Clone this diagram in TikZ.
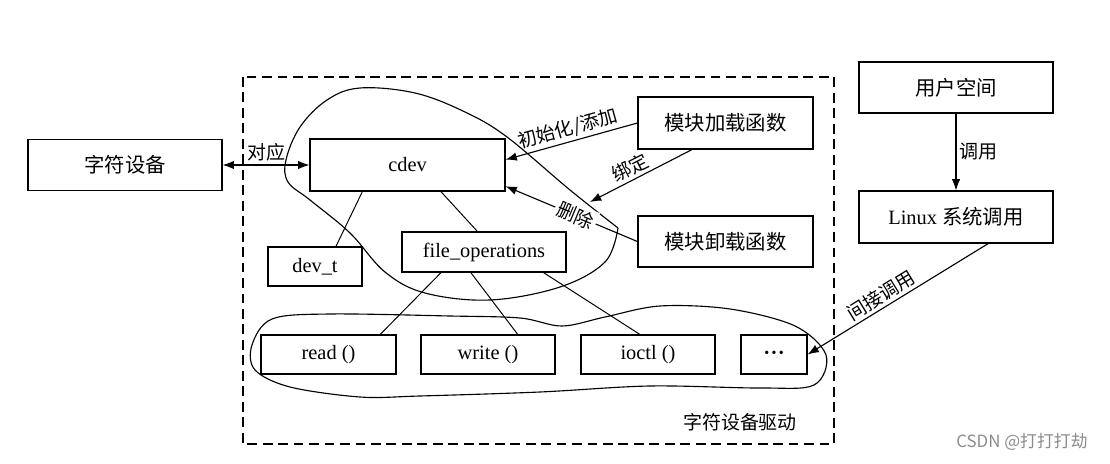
\documentclass[tikz,border=0pt]{standalone}
\usepackage{fontspec}
\setmainfont{Liberation Serif}
\newfontfamily\cjk{Noto Sans CJK SC}
\usetikzlibrary{calc,arrows.meta}
\def\on(#1)!#2!(#3){($(#1)!#2!(#3)$)}
\tikzset{
  box/.style={draw, line width=0.8pt, inner sep=0pt, font=\fontsize{14.5pt}{16pt}\selectfont},
  lbl/.style={font=\cjk\fontsize{13.5pt}{15pt}\selectfont, inner sep=2pt},
  arr/.style={line width=0.8pt, -{Latex[length=8pt,width=6pt]}},
  link/.style={line width=0.7pt},
  blob/.style={line width=0.8pt},
}

\begin{document}
\begin{tikzpicture}[x=0.025cm, y=-0.025cm]
			%%%%% START %%%%%
			\useasboundingbox (0,0) rectangle (1110,464);
			
			\draw[line width=0.8pt, dash pattern=on 7pt off 4pt] (243,77) rectangle (834,444);
			\node[lbl] (drvlbl) at (740,422) {字符设备驱动};
			
			\node[box, minimum width=4.85cm, minimum height=1.275cm] (chardev) at (125,165) {\cjk 字符设备};
			\node[box, minimum width=4.875cm, minimum height=1.3cm] (cdev) at (407.5,165) {cdev};
			\node[box, minimum width=2.35cm, minimum height=0.975cm] (devt) at (315,266.5) {dev\_t};
			\node[box, minimum width=4.1cm, minimum height=1.0cm] (fops) at (484,252) {file\_operations};
			\node[box, minimum width=4.375cm, minimum height=1.3cm] (modload) at (725.5,123) {\cjk 模块加载函数};
			\node[box, minimum width=4.375cm, minimum height=1.275cm] (modunload) at (725.5,241.5) {\cjk 模块卸载函数};
			\node[box, minimum width=4.85cm, minimum height=1.275cm] (user) at (956,87.5) {\cjk 用户空间};
			\node[box, minimum width=4.85cm, minimum height=1.3cm] (syscall) at (956,217) {Linux {\cjk 系统调用}};
			
			\node[box, minimum width=3.375cm, minimum height=0.975cm] (read) at (328.5,354.5) {read ()};
			\node[box, minimum width=3.35cm, minimum height=0.975cm] (write) at (488,354.5) {write ()};
			\node[box, minimum width=3.35cm, minimum height=0.975cm] (ioctl) at (648,354.5) {ioctl ()};
			\node[box, minimum width=1.65cm, minimum height=0.975cm] (more) at (774,354.5) {\fontsize{10pt}{10pt}\selectfont\textbullet\,\textbullet\,\textbullet};
			
			% outlines
			\draw[blob] plot[smooth, tension=0.6] coordinates {(618,228) (570,190) (507,137) (465,112) (415,93) (360,88) (327,100) (300,127) (286,160) (288,182) (310,200) (350,233) (385,272) (425,293) (490,300) (560,287) (605,262) (618,228)};
			\draw[blob] plot[smooth cycle, tension=0.55] coordinates {(252,345) (272,319) (330,314) (450,316) (520,318) (562,326) (605,317) (660,306) (730,309) (795,326) (826,355) (814,385) (760,388) (650,386) (540,392) (420,396) (360,397) (290,387) (255,370)};
			
			% connectors
			\draw[link] \on(cdev.south west)!.27!(cdev.south east) -- \on(devt.north west)!.72!(devt.north east);
			\draw[link] \on(cdev.south west)!.67!(cdev.south east) -- \on(fops.north west)!.46!(fops.north east);
			\draw[link] \on(fops.south west)!.24!(fops.south east) -- \on(read.north west)!.88!(read.north east);
			\draw[link] \on(fops.south west)!.42!(fops.south east) -- \on(write.north west)!.72!(write.north east);
			\draw[link] \on(fops.south west)!.86!(fops.south east) -- \on(ioctl.north west)!.44!(ioctl.north east);
			
			\draw[arr, {Latex[length=8pt,width=6pt]}-{Latex[length=8pt,width=6pt]}] (chardev.east) -- node[lbl, above] {对应} (cdev.west);
			\draw[arr] (modload.west) -- node[lbl, sloped, above] {初始化/添加} \on(cdev.north east)!.4!(cdev.south east);
			\coordinate (bind) at (590,202);
			\draw[arr] \on(modload.south west)!.31!(modload.south east) -- node[lbl, sloped, above, pos=0.55] {绑定} (bind);
			\draw[arr] (modunload.west) -- node[lbl, sloped, fill=white, pos=0.47] {删除} \on(cdev.north east)!.9!(cdev.south east);
			\draw[arr] (user.south) -- node[lbl, right] {调用} (syscall.north);
			\draw[arr] \on(syscall.south west)!.665!(syscall.south east) -- node[lbl, sloped, above, pos=0.56] {间接调用} (more.east);
			
			\node[font=\cjk\fontsize{12pt}{14pt}\selectfont, text=black!45] (mark) at (1022,442) {CSDN @打打打劫};
			%%%%% END %%%%%
\end{tikzpicture}
\end{document}
